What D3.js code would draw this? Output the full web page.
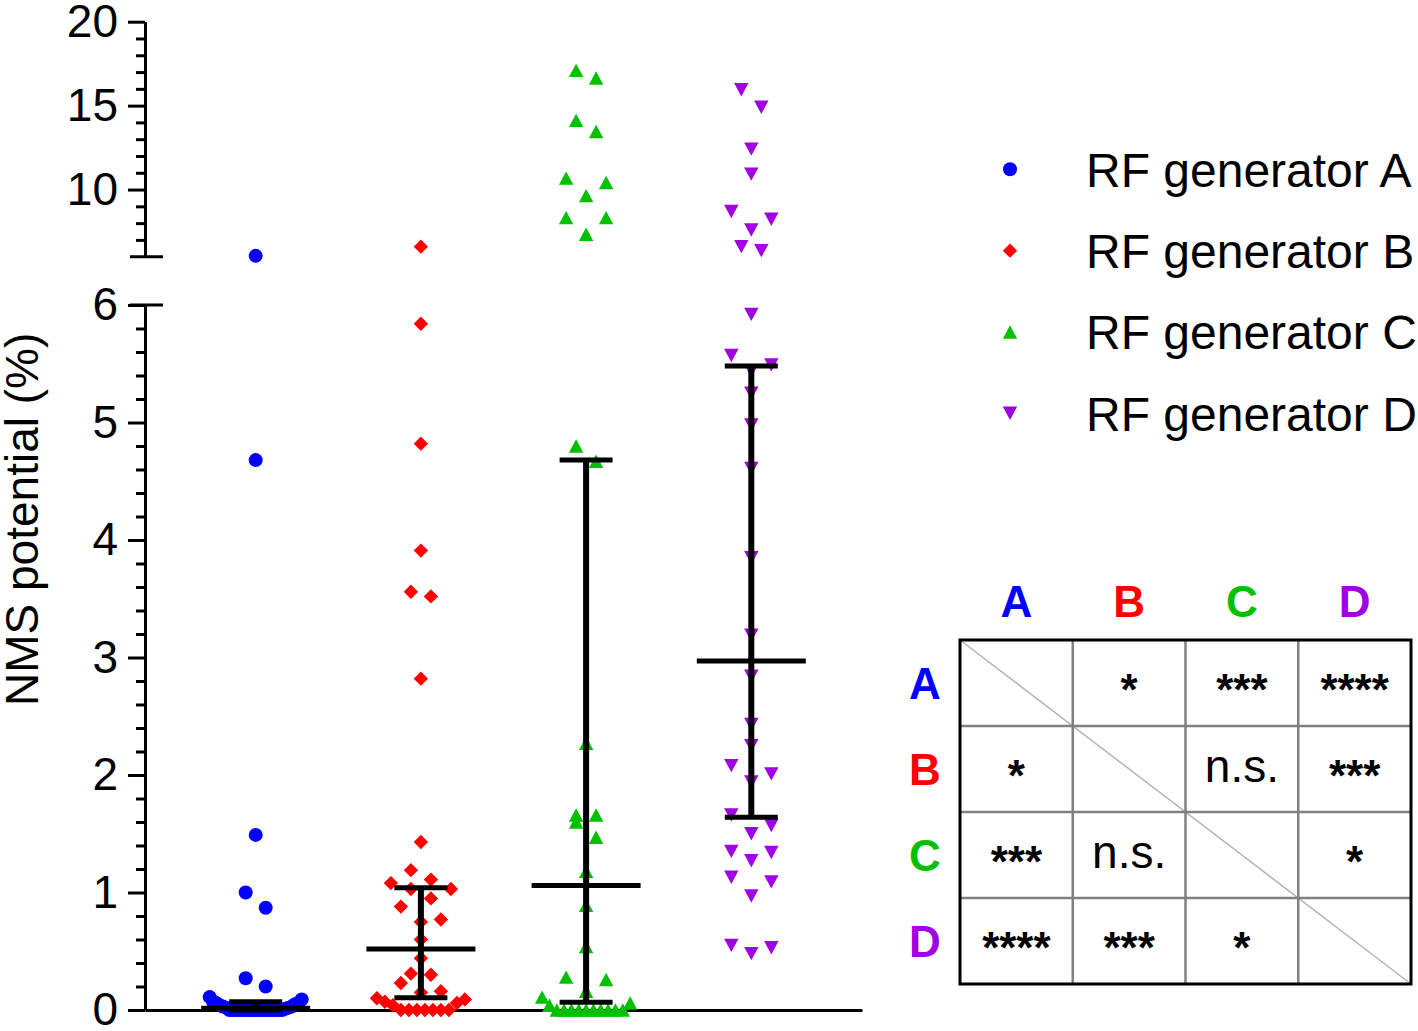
<!DOCTYPE html>
<html><head><meta charset="utf-8">
<script src="https://cdn.jsdelivr.net/npm/d3@7"></script>
<style>html,body{margin:0;padding:0;background:#fff;} svg{display:block;font-family:"Liberation Sans",Arial,sans-serif;}</style>
</head><body><svg id="chart" width="1418" height="1031"></svg>
<script>
// ---------------- data ----------------
const categories = ["RF generator A", "RF generator B", "RF generator C", "RF generator D"];
const groupLetters = ["A", "B", "C", "D"];
const colors = ["#0000FF", "#FF0000", "#00C000", "#A100E4"];

const valuesA = [6.05, 4.68, 1.49, 1.00, 0.87, 0.27, 0.20, 0.11, 0.09, 0.07, 0.06, 0.06, 0.05, 0.04, 0.03, 0.03, 0.02, 0.02, 0.01,
  0, 0, 0, 0, 0, 0, 0, 0, 0, 0, 0, 0, 0, 0, 0, 0, 0];
const valuesB = [6.6, 5.84, 4.82, 3.91, 3.56, 3.52, 2.82, 1.43, 1.19, 1.11, 1.08, 1.03, 1.03, 0.95, 0.88, 0.77, 0.75, 0.60,
  0.44, 0.31, 0.30, 0.23, 0.16, 0.15, 0.10, 0.09, 0.07, 0.06, 0.04, 0, 0, 0, 0, 0, 0, 0];
const valuesC = [17.1, 16.65, 14.12, 13.46, 10.68, 10.42, 9.64, 8.33, 8.33, 7.34, 4.80, 4.67, 2.27, 1.66, 1.66, 1.60, 1.47,
  1.18, 0.89, 0.54, 0.28, 0.26, 0.16, 0.11, 0.06, 0.04, 0, 0, 0, 0, 0, 0, 0, 0, 0, 0];
const valuesD = [15.95, 14.9, 12.41, 10.92, 8.69, 8.23, 7.59, 6.6, 6.36, 5.92, 5.57, 5.49, 5.44, 5.25, 4.98, 4.61, 3.85, 3.19,
  2.84, 2.43, 2.25, 2.08, 2.01, 1.94, 1.66, 1.57, 1.50, 1.35, 1.34, 1.27, 1.13, 1.09, 0.97, 0.55, 0.53, 0.48];

// median with 95% CI, as drawn
const medians = [0.015, 0.52, 1.06, 2.97];
const ciLow = [0, 0.105, 0.066, 1.64];
const ciHigh = [0.07, 1.04, 4.68, 5.48];

const lowMajorTicks = [0, 1, 2, 3, 4, 5, 6];
const highMajorTicks = [10, 15, 20];
const yAxisTitle = "NMS potential (%)";

const sigMatrix = [
  ["", "*", "***", "****"],
  ["*", "", "n.s.", "***"],
  ["***", "n.s.", "", "*"],
  ["****", "***", "*", ""]
];

// ---------------- layout ----------------
const svg = d3.select("#chart");
const axisX = 145;
const breakAt = 6;
const yLow = d3.scaleLinear().domain([0, 6]).range([1010, 305]);
const yHigh = d3.scaleLinear().domain([6, 20]).range([256.7, 21.7]);
const yPos = v => v > breakAt ? yHigh(v) : yLow(v);
const x = d3.scalePoint().domain(categories).range([axisX, 862]).padding(0.67);

const FONT = '"Liberation Sans", Arial, sans-serif';

// symbol types
const diamondType = { draw(ctx, size) { const r = Math.sqrt(size / 2); ctx.moveTo(0, -r); ctx.lineTo(r, 0); ctx.lineTo(0, r); ctx.lineTo(-r, 0); ctx.closePath(); } };
const triUpType = { draw(ctx, size) { const w = Math.sqrt(size * 2 / 0.93) / 2, h = w * 0.93; ctx.moveTo(0, -h); ctx.lineTo(w, h); ctx.lineTo(-w, h); ctx.closePath(); } };
const triDownType = { draw(ctx, size) { const w = Math.sqrt(size * 2 / 0.93) / 2, h = w * 0.93; ctx.moveTo(-w, -h); ctx.lineTo(w, -h); ctx.lineTo(0, h); ctx.closePath(); } };
const symbolTypes = [d3.symbolCircle, diamondType, triUpType, triDownType];
const symbolSizes = [Math.PI * 7 * 7, 2 * 7.2 * 7.2, 2 * 7.2 * 6.7, 2 * 7.2 * 6.7];

const swarmParams = [
  { binH: 16, sp: 20, maxHalf: 46 },
  { binH: 16, sp: 20, maxHalf: 44 },
  { binH: 18, sp: 20, maxHalf: 44 },
  { binH: 20, sp: 20, maxHalf: 44 }
];

function swarm(vals, p) {
  const pts = vals.map((v, i) => ({ v, i, y: yPos(v), dx: 0 }));
  const asc = pts.slice().sort((a, b) => a.v - b.v || a.i - b.i);
  const bins = [];
  let cur = [];
  for (const q of asc) {
    if (cur.length && (cur[0].y - q.y) >= p.binH) { bins.push(cur); cur = []; }
    cur.push(q);
  }
  if (cur.length) bins.push(cur);
  for (const b of bins) {
    const n = b.length;
    const s = n > 1 ? Math.min(p.sp, 2 * p.maxHalf / (n - 1)) : 0;
    const offs = d3.range(n).map(k => (k - (n - 1) / 2) * s)
      .sort((a, c) => Math.abs(c) - Math.abs(a) || a - c);
    const members = b.slice().sort((a, c) => c.v - a.v || a.i - c.i);
    members.forEach((m, k) => { m.dx = offs[k]; });
  }
  return pts;
}

// ---------------- axes ----------------
const axG = svg.append("g").attr("class", "axes");
function styleAxis(g) {
  g.selectAll("path.domain").attr("stroke", "#000").attr("stroke-width", 3);
  g.selectAll(".tick line").attr("stroke", "#000").attr("stroke-width", 3);
  g.selectAll(".tick text").attr("font-family", FONT).attr("font-size", 46).attr("fill", "#000");
}
// lower segment
axG.append("g").attr("transform", `translate(${axisX},0)`)
  .call(d3.axisLeft(yLow).tickValues(d3.range(0, 6.0001, 0.2).filter(v => Math.abs(v - Math.round(v)) > 1e-6)).tickSize(9).tickSizeOuter(0).tickFormat(""))
  .call(styleAxis);
axG.append("g").attr("transform", `translate(${axisX},0)`)
  .call(d3.axisLeft(yLow).tickValues(lowMajorTicks).tickSize(17).tickSizeOuter(0).tickPadding(10).tickFormat(d3.format("d")))
  .call(styleAxis);
// upper segment
axG.append("g").attr("transform", `translate(${axisX},0)`)
  .call(d3.axisLeft(yHigh).tickValues(d3.range(7, 20).filter(v => !highMajorTicks.includes(v))).tickSize(9).tickSizeOuter(0).tickFormat(""))
  .call(styleAxis);
axG.append("g").attr("transform", `translate(${axisX},0)`)
  .call(d3.axisLeft(yHigh).tickValues(highMajorTicks).tickSize(17).tickSizeOuter(0).tickPadding(10).tickFormat(d3.format("d")))
  .call(styleAxis);
// break caps
[yHigh(breakAt), yLow(breakAt)].forEach(yy => {
  axG.append("line").attr("x1", axisX - 15).attr("x2", axisX + 18).attr("y1", yy).attr("y2", yy)
    .attr("stroke", "#000").attr("stroke-width", 3);
});
// x axis
axG.append("g").attr("transform", `translate(0,${yLow(0)})`)
  .call(d3.axisBottom(x).tickSize(0).tickSizeOuter(0).tickFormat(""))
  .call(styleAxis);

// y title
svg.append("text")
  .attr("transform", `translate(38,${(yLow(0) + yHigh(breakAt)) / 2 - 114}) rotate(-90)`)
  .attr("text-anchor", "middle")
  .attr("font-family", FONT).attr("font-size", 46).attr("fill", "#000")
  .text(yAxisTitle);

// ---------------- points ----------------
const allValues = [valuesA, valuesB, valuesC, valuesD];
const ptsG = svg.append("g").attr("class", "points");
allValues.forEach((vals, gi) => {
  const pts = swarm(vals, swarmParams[gi]);
  const cx = x(categories[gi]);
  ptsG.append("g").selectAll("path").data(pts).join("path")
    .attr("d", d3.symbol(symbolTypes[gi], symbolSizes[gi]))
    .attr("transform", d => `translate(${cx + d.dx},${d.y})`)
    .attr("fill", colors[gi]);
});

// ---------------- summary (median + 95% CI) ----------------
const sumG = svg.append("g").attr("class", "summary");
categories.forEach((c, gi) => {
  const cx = x(c);
  sumG.append("line").attr("x1", cx).attr("x2", cx).attr("y1", yLow(ciLow[gi])).attr("y2", yLow(ciHigh[gi]))
    .attr("stroke", "#000").attr("stroke-width", 6);
  [ciLow[gi], ciHigh[gi]].forEach(v => {
    sumG.append("line").attr("x1", cx - 26.5).attr("x2", cx + 26.5).attr("y1", yLow(v)).attr("y2", yLow(v))
      .attr("stroke", "#000").attr("stroke-width", 5);
  });
  sumG.append("line").attr("x1", cx - 54.5).attr("x2", cx + 54.5).attr("y1", yLow(medians[gi])).attr("y2", yLow(medians[gi]))
    .attr("stroke", "#000").attr("stroke-width", 5);
});

// ---------------- legend ----------------
const legY = d3.scalePoint().domain(categories).range([169.3, 413.3]);
const legG = svg.append("g").attr("class", "legend");
categories.forEach((c, gi) => {
  legG.append("path").attr("d", d3.symbol(symbolTypes[gi], symbolSizes[gi])())
    .attr("transform", `translate(1010,${legY(c)})`).attr("fill", colors[gi]);
  legG.append("text").attr("x", 1086).attr("y", legY(c) + 17.5)
    .attr("font-family", FONT).attr("font-size", 48).attr("fill", "#000").text(c);
});

// ---------------- significance table ----------------
const tCol = d3.scaleBand().domain(groupLetters).range([960, 1411]);
const tRow = d3.scaleBand().domain(groupLetters).range([640, 984]);
const tabG = svg.append("g").attr("class", "table");
tabG.append("line").attr("x1", 960).attr("y1", 640).attr("x2", 1411).attr("y2", 984)
  .attr("stroke", "#b5b5b5").attr("stroke-width", 1.5);
groupLetters.slice(1).forEach(l => {
  tabG.append("line").attr("x1", tCol(l)).attr("x2", tCol(l)).attr("y1", 640).attr("y2", 984)
    .attr("stroke", "#808080").attr("stroke-width", 2.5);
  tabG.append("line").attr("y1", tRow(l)).attr("y2", tRow(l)).attr("x1", 960).attr("x2", 1411)
    .attr("stroke", "#808080").attr("stroke-width", 2.5);
});
tabG.append("rect").attr("x", 960).attr("y", 640).attr("width", 451).attr("height", 344)
  .attr("fill", "none").attr("stroke", "#000").attr("stroke-width", 3);

groupLetters.forEach((l, i) => {
  tabG.append("text").attr("x", tCol(l) + tCol.bandwidth() / 2).attr("y", 617)
    .attr("text-anchor", "middle").attr("font-family", FONT).attr("font-weight", "bold")
    .attr("font-size", 44).attr("fill", colors[i]).text(l);
  tabG.append("text").attr("x", 925).attr("y", tRow(l) + tRow.bandwidth() / 2 + 15.5)
    .attr("text-anchor", "middle").attr("font-family", FONT).attr("font-weight", "bold")
    .attr("font-size", 44).attr("fill", colors[i]).text(l);
});
sigMatrix.forEach((row, ri) => {
  row.forEach((txt, ci) => {
    if (!txt) return;
    const cxx = tCol(groupLetters[ci]) + tCol.bandwidth() / 2;
    const cyy = tRow(groupLetters[ri]) + tRow.bandwidth() / 2;
    const isNs = txt === "n.s.";
    tabG.append("text").attr("x", cxx).attr("y", isNs ? cyy + 13 : cyy + 22)
      .attr("text-anchor", "middle").attr("font-family", FONT)
      .attr("font-weight", isNs ? "normal" : "bold")
      .attr("font-size", isNs ? 46 : 44).attr("fill", "#000").text(txt);
  });
});
</script>
</body></html>
